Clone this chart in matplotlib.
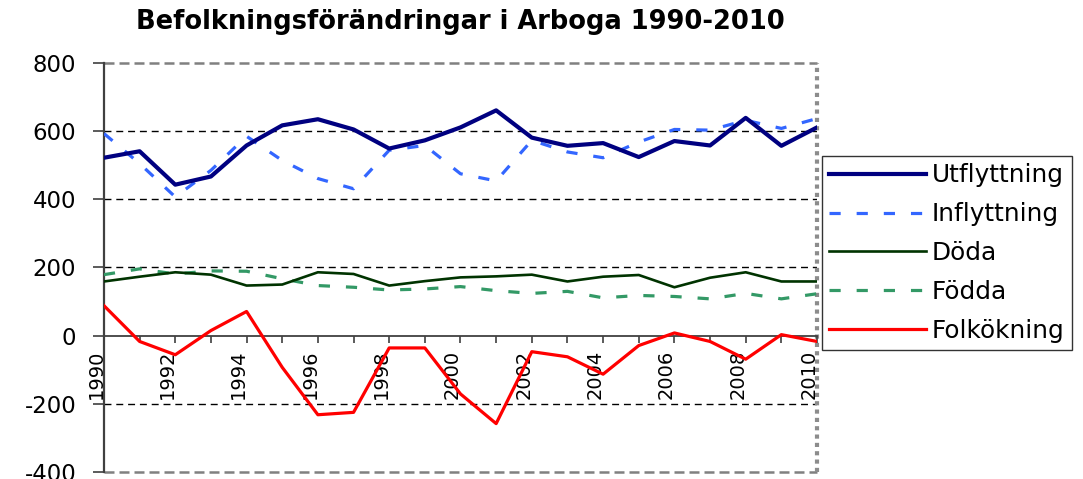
import numpy as np
import matplotlib
matplotlib.use('Agg')
import matplotlib.pyplot as plt
import matplotlib.transforms as mtransforms

plt.rcParams['axes.unicode_minus'] = False

# values
years = list(range(1990, 2011))
utflyttning = [522, 541, 443, 467, 558, 617, 635, 605, 549, 573, 611,
               661, 581, 557, 565, 524, 571, 558, 639, 557, 611]
inflyttning = [593, 505, 407, 485, 585, 514, 461, 431, 544, 558, 475,
               454, 573, 539, 522, 568, 605, 603, 632, 608, 637]
doda = [159, 173, 186, 179, 147, 150, 186, 181, 147, 160, 171,
        174, 179, 159, 173, 178, 142, 170, 186, 159, 159]
fodda = [179, 196, 181, 190, 189, 167, 147, 142, 134, 137, 144,
         132, 124, 130, 111, 118, 115, 108, 124, 108, 123]
folkokning = [88, -17, -56, 15, 71, -93, -232, -225, -36, -36, -171,
              -258, -47, -62, -113, -29, 8, -17, -69, 3, -17]

title = 'Befolkningsförändringar i Arboga 1990-2010'
year_labels = [str(y) if y % 2 == 0 else '' for y in years]

fig = plt.figure(figsize=(10.83, 4.79), dpi=100)
ax = fig.add_axes([0.096, 0.0146, 0.6584, 0.8539])

# grid lines (Excel style)
for v in [600, 400, 200, -200]:
    ax.axhline(v, color='black', lw=1.0, dashes=(5, 3.5), zorder=1)
for v in [800, -400]:
    ax.axhline(v, color='#808080', lw=1.8, dashes=(4, 2), zorder=1, clip_on=False)
ax.axvline(2010, color='#8c8c8c', lw=3, dashes=(1, 1), zorder=1, clip_on=False)

ax.plot(years, utflyttning, color='#000080', lw=3.0, label='Utflyttning', zorder=5)
ax.plot(years, inflyttning, color='#3366ff', lw=2.3, dashes=(3.5, 5), label='Inflyttning', zorder=4)
ax.plot(years, doda, color='#003300', lw=1.9, label='Döda', zorder=5)
ax.plot(years, fodda, color='#339966', lw=2.3, dashes=(3.5, 5), label='Födda', zorder=4)
ax.plot(years, folkokning, color='#ff0000', lw=2.3, label='Folkökning', zorder=5)

ax.set_xlim(1990, 2010)
ax.set_ylim(-400, 800)

ax.spines['top'].set_visible(False)
ax.spines['right'].set_visible(False)
ax.spines['bottom'].set_position(('data', 0))
ax.spines['bottom'].set_color('#404040')
ax.spines['bottom'].set_linewidth(1.3)
ax.spines['bottom'].set_zorder(3)
ax.spines['left'].set_color('#404040')
ax.spines['left'].set_linewidth(1.6)

ax.tick_params(axis='y', direction='out', length=8, width=1.2, color='#404040',
               labelsize=16.5, pad=12)
ax.tick_params(axis='x', direction='out', length=5, width=1.2, color='#404040', pad=5)

ax.set_yticks([-400, -200, 0, 200, 400, 600, 800])
ax.set_xticks(years)
ax.set_xticklabels(year_labels, rotation=90, fontsize=14, va='top', ha='center')

# shift year labels a bit to the left of their ticks
offset = mtransforms.ScaledTranslation(-8 / 100, 0, fig.dpi_scale_trans)
for lab in ax.get_xticklabels():
    lab.set_transform(lab.get_transform() + offset)

fig.text(0.425, 0.955, title, ha='center', va='center', fontsize=18.5,
         fontweight='bold')

leg = fig.legend(loc='upper left', bbox_to_anchor=(822 / 1083, 1 - 156 / 479),
                 borderaxespad=0, fontsize=17.8, handlelength=3.9, handletextpad=0.25,
                 labelspacing=0.6, borderpad=0.3, fancybox=False, frameon=True)
leg.get_frame().set_edgecolor('black')
leg.get_frame().set_linewidth(1.0)

fig.savefig('out.png', dpi=100)
